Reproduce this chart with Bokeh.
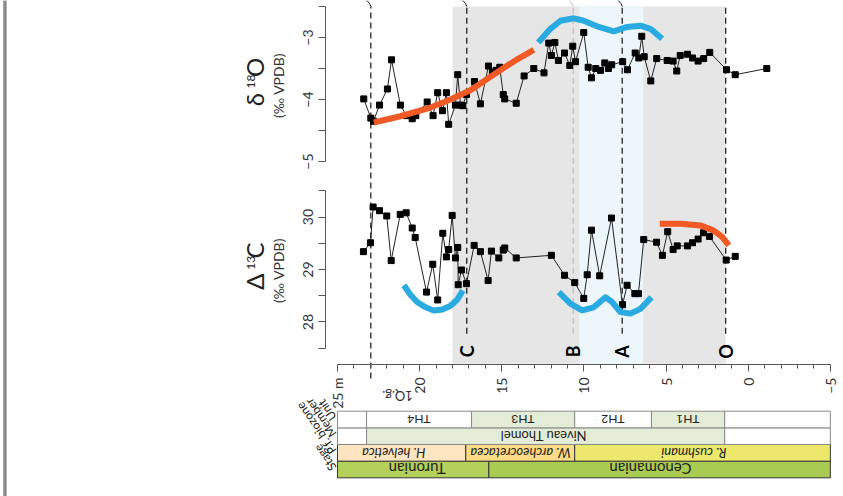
from math import pi
from bokeh.plotting import figure
from bokeh.models import Range1d, LinearAxis, FixedTicker, Span
from bokeh.core.properties import value
from bokeh.embed import file_html
from bokeh.resources import INLINE

FONT = value("Lato")

# ---------------- data ----------------
depth_o = [23.40, 22.97, 22.81, 22.44, 21.96, 21.71, 21.17, 20.80, 20.45, 20.23,
           19.54, 19.18, 18.90, 18.61, 18.37, 18.23, 17.82, 17.68, 17.51, 17.37,
           17.15, 16.66, 16.30, 15.81, 15.57, 15.34, 15.12, 14.91, 14.82, 14.12,
           13.64, 13.05, 12.43, 12.14, 11.98, 11.77, 11.55, 11.18, 10.86, 10.68,
           10.51, 10.01, 9.74, 9.54, 9.28, 8.99, 8.73, 8.51, 8.31, 7.64,
           7.35, 6.88, 6.66, 6.48, 6.33, 5.93, 5.57, 4.93, 4.57, 4.35,
           4.14, 3.70, 3.39, 3.05, 2.71, 2.34, 1.32, 0.79, -1.13]
d18o = [-3.99, -4.30, -4.35, -4.09, -3.83, -3.36, -4.09, -4.26, -4.31, -4.26,
        -4.04, -4.26, -3.89, -4.18, -3.89, -4.40, -4.09, -3.60, -4.09, -4.10,
        -3.92, -3.71, -4.07, -3.46, -3.56, -3.53, -3.48, -3.92, -3.99, -4.06,
        -3.62, -3.50, -3.57, -3.09, -3.29, -3.08, -3.37, -3.25, -3.45, -3.14,
        -3.39, -2.92, -3.48, -3.65, -3.50, -3.53, -3.41, -3.50, -3.44, -3.39,
        -3.52, -3.25, -3.33, -2.98, -3.31, -3.70, -3.34, -3.37, -3.38, -3.54,
        -3.29, -3.27, -3.33, -3.38, -3.34, -3.24, -3.52, -3.60, -3.50]

depth_c = [23.42, 22.99, 22.83, 22.44, 22.00, 21.73, 21.18, 20.82, 20.45, 20.27,
           19.58, 19.20, 18.90, 18.59, 18.37, 18.23, 18.02, 17.82, 17.68, 17.65,
           17.45, 17.15, 16.68, 16.30, 15.83, 15.63, 15.18, 14.91, 14.82, 14.12,
           11.98, 11.18, 10.56, 10.01, 9.80, 9.54, 9.04, 8.32, 7.65, 7.37,
           6.90, 6.68, 6.36, 5.58, 5.22, 4.90, 4.57, 4.32, 3.70, 3.39,
           3.05, 2.72, 2.36, 1.34, 0.79]
d13c = [29.34, 29.51, 30.19, 30.12, 30.02, 29.17, 30.05, 30.08, 29.79, 29.61,
        28.57, 29.10, 28.42, 29.69, 29.24, 29.38, 30.03, 29.22, 29.42, 28.71,
        28.99, 28.73, 29.46, 29.34, 28.79, 29.35, 29.22, 29.37, 29.41, 29.22,
        29.27, 28.89, 28.75, 28.45, 28.90, 29.75, 28.88, 29.98, 28.33, 28.70,
        28.54, 28.54, 29.57, 29.52, 29.27, 29.72, 29.38, 29.45, 29.45, 29.51,
        29.58, 29.70, 29.63, 29.18, 29.25]

# trend sketches
orange_o_d = [22.79, 21.17, 19.34, 18.12, 16.91, 15.28, 14.17, 13.05]
orange_o_v = [-4.37, -4.27, -4.13, -4.00, -3.85, -3.56, -3.37, -3.20]
blue_o_d = [12.78, 12.04, 11.43, 10.62, 10.01, 9.10, 8.18, 7.37, 6.56, 5.95, 5.24]
blue_o_v = [-3.08, -2.86, -2.73, -2.69, -2.73, -2.83, -2.90, -2.83, -2.81, -2.86, -3.02]
blue_c1_d = [20.96, 20.56, 20.15, 19.64, 19.14, 18.61, 18.12, 17.70, 17.37]
blue_c1_v = [28.70, 28.52, 28.38, 28.28, 28.22, 28.24, 28.31, 28.43, 28.60]
blue_c2_d = [11.53, 10.82, 10.11, 9.40, 8.69, 8.28, 7.78, 7.17, 6.56, 5.89]
blue_c2_v = [28.57, 28.35, 28.22, 28.28, 28.47, 28.38, 28.19, 28.16, 28.25, 28.47]
orange_c_d = [5.38, 4.12, 2.91, 2.10, 1.59, 1.18]
orange_c_v = [29.87, 29.87, 29.84, 29.74, 29.62, 29.46]

# event levels
event_depth = [22.97, 17.13, 10.65, 7.67, 1.37]
event_label = ["", "C", "B", "A", "O"]
shade_grey = (18.0, 1.37)
shade_blue = (10.27, 6.39)

# stratigraphic columns (depth intervals)
unit_left = [25, 23.23, 16.84, 10.56, 5.89, 1.43]
unit_right = [23.23, 16.84, 10.56, 5.89, 1.43, -5]
unit_name = ["", "TH4", "TH3", "TH2", "TH1", ""]
unit_fill = ["white", "white", "#E2ECD6", "white", "#E2ECD6", "white"]
member_left = [25, 23.23, 1.43]
member_right = [23.23, 1.43, -5]
member_fill = ["white", "#E2ECD6", "white"]
bio_left = [25, 17.19, 10.56]
bio_right = [17.19, 10.56, -5]
bio_name = ["H. helvetica", "W. archeocretacea", "R. cushmani"]
bio_fill = ["#FDE5C1", "#FCDB86", "#ECE86C"]
stage_left = [25, 15.79]
stage_right = [15.79, -5]
stage_name = ["Turonian", "Cenomanian"]
stage_fill = ["#B2D05A", "#A9CB52"]
row_titles = ["Stage", "P.f. biozone", "Member", "Unit"]

x_ticks = [25, 20, 15, 10, 5, 0, -5]

# ---------------- figure ----------------
p = figure(width=843, height=496, output_backend="svg", toolbar_location=None,
           x_axis_location=None, y_axis_location=None, min_border=0,
           x_range=Range1d(45.51, -5.80), y_range=Range1d(-10.403, -2.403))
p.outline_line_color = None
p.grid.grid_line_color = None
p.background_fill_color = "white"
p.extra_y_ranges = {"c": Range1d(24.676, 34.124), "s": Range1d(-1.123, 28.667)}

# page edge bar on the far left
p.add_layout(Span(location=45.24, dimension="height", line_color="#5a5a5a", line_width=3))
p.add_layout(Span(location=45.24, dimension="height", line_color="#bbbbbb", line_width=1))

# shading
p.quad(left=[shade_grey[0]], right=[shade_grey[1]], bottom=[-8.26], top=[-2.5],
       fill_color="#E6E6E6", line_color=None)
p.quad(left=[shade_blue[0]], right=[shade_blue[1]], bottom=[-8.26], top=[-2.5],
       fill_color="#EDF6FA", line_color=None)

# event dashed lines
for d, lab in zip(event_depth, event_label):
    col = "#BBBBBB" if lab == "B" else "#111111"
    bottom = -8.5 if lab == "" else -7.78
    p.segment(x0=[d], y0=[bottom], x1=[d], y1=[-2.5], line_color=col,
              line_width=1.2, line_dash="6 4")
    if lab != "O":
        p.line(x=[d, d + 0.08, d + 0.25], y=[-2.5, -2.45, -2.40], line_color=col, line_width=1)

# data series
p.line(depth_o, d18o, line_color="#222222", line_width=1)
p.scatter(depth_o, d18o, marker="square", size=6, color="black")
p.line(depth_c, d13c, line_color="#222222", line_width=1, y_range_name="c")
p.scatter(depth_c, d13c, marker="square", size=6, color="black", y_range_name="c")

# trend sketches
p.line(orange_o_d, orange_o_v, line_color="#F15A24", line_width=6, line_join="round")
p.line(blue_o_d, blue_o_v, line_color="#29ABE2", line_width=6, line_join="round")
p.line(blue_c1_d, blue_c1_v, line_color="#29ABE2", line_width=6, line_join="round", y_range_name="c")
p.line(blue_c2_d, blue_c2_v, line_color="#29ABE2", line_width=6, line_join="round", y_range_name="c")
p.line(orange_c_d, orange_c_v, line_color="#F15A24", line_width=6, line_join="round", y_range_name="c")

# event letters
p.text(x=event_depth[1:], y=[27.44] * 4, text=event_label[1:], angle=pi / 2,
       text_font=FONT, text_font_size="18px", text_font_style="bold",
       text_align="center", text_baseline="middle", text_color="black",
       y_range_name="c")

# axes
def style(ax):
    ax.axis_line_color = "#555555"
    ax.major_tick_line_color = "#555555"
    ax.minor_tick_line_color = "#555555"
    ax.major_tick_in = 0
    ax.minor_tick_in = 0
    ax.major_label_text_font = "Lato"
    ax.major_label_text_font_size = "14px"
    ax.major_label_text_color = "#333333"

ax18 = LinearAxis(fixed_location=25.73, bounds=(-5, -2.5),
                  ticker=FixedTicker(ticks=[-5, -4, -3], minor_ticks=[-4.5, -3.5, -2.5]),
                  major_label_orientation="vertical")
style(ax18)
ax18.major_tick_out = 7
ax18.minor_tick_out = 7
ax18.major_label_standoff = 5
p.add_layout(ax18, "left")

ax13 = LinearAxis(fixed_location=25.73, bounds=(27.5, 30.5), y_range_name="c",
                  ticker=FixedTicker(ticks=[28, 29, 30], minor_ticks=[27.5, 28.5, 29.5, 30.5]),
                  major_label_orientation="vertical")
style(ax13)
ax13.major_tick_out = 7
ax13.minor_tick_out = 7
ax13.major_label_standoff = 5
p.add_layout(ax13, "left")

xax = LinearAxis(fixed_location=-8.274, bounds=(-5, 25),
                 ticker=FixedTicker(ticks=x_ticks, minor_ticks=list(range(-5, 26))),
                 major_label_orientation=pi / 2,
                 major_label_overrides={25: "25 m"})
style(xax)
xax.major_tick_out = 7
xax.minor_tick_out = 4
xax.major_label_standoff = 6
p.add_layout(xax, "below")

# axis titles
p.text(x=[30.05, 30.05], y=[-4.0, -3.48], text=["δ", "O"], angle=pi / 2,
       text_font=FONT, text_font_size="24px", text_align="center",
       text_baseline="middle", text_color="#222222")
p.text(x=[30.25], y=[-3.71], text=["18"], angle=pi / 2, text_font=FONT,
       text_font_size="12px", text_align="center", text_baseline="middle",
       text_color="#222222")
p.text(x=[30.05, 30.05], y=[28.77, 29.36], text=["Δ", "C"], angle=pi / 2,
       text_font=FONT, text_font_size="24px", text_align="center",
       text_baseline="middle", text_color="#222222", y_range_name="c")
p.text(x=[30.25], y=[29.13], text=["13"], angle=pi / 2, text_font=FONT,
       text_font_size="12px", text_align="center", text_baseline="middle",
       text_color="#222222", y_range_name="c")
p.text(x=[28.56], y=[-3.774], text=["(‰ VPDB)"], angle=pi / 2, text_font=FONT,
       text_font_size="14px", text_align="center", text_baseline="middle",
       text_color="#333333")
p.text(x=[28.56], y=[28.98], text=["(‰ VPDB)"], angle=pi / 2, text_font=FONT,
       text_font_size="14px", text_align="center", text_baseline="middle",
       text_color="#333333", y_range_name="c")

# stratigraphic columns
def row(lefts, rights, fills, y0, line_color):
    p.quad(left=lefts, right=rights, bottom=[y0] * len(lefts), top=[y0 + 1] * len(lefts),
           fill_color=fills, line_color=line_color, line_width=1, y_range_name="s")

row(stage_left, stage_right, stage_fill, 0, "#333333")
row(bio_left, bio_right, bio_fill, 1, "#333333")
row(member_left, member_right, member_fill, 2, "#888888")
row(unit_left, unit_right, unit_fill, 3, "#888888")

p.text(x=[20.04, 13.71, 8.23, 3.67], y=[3.5] * 4, text=unit_name[1:5], angle=pi,
       text_font=FONT, text_font_size="12px", text_align="center", text_baseline="middle",
       text_color="#222222", y_range_name="s")
p.text(x=[12.46], y=[2.5], text=["Niveau Thomel"], angle=pi,
       text_font=FONT, text_font_size="13px", text_align="center", text_baseline="middle",
       text_color="#222222", y_range_name="s")
p.text(x=[21.57, 13.86, 3.31], y=[1.5] * 3, text=bio_name, angle=pi,
       text_font=FONT, text_font_size="13px", text_font_style="italic",
       text_align="center", text_baseline="middle", text_color="#222222", y_range_name="s")
p.text(x=[20.15, 5.95], y=[0.5] * 2, text=stage_name, angle=pi,
       text_font=FONT, text_font_size="15px", text_align="center", text_baseline="middle",
       text_color="#222222", y_range_name="s")

# row titles (diagonal, upside down)
p.text(x=[25.25] * 4, y=[0.5, 1.5, 2.5, 3.5], text=row_titles, angle=2.18,
       text_font=FONT, text_font_size="12px", text_align="left", text_baseline="middle",
       text_color="#222222", y_range_name="s")

p.text(x=[21.35], y=[4.94], text=["1Q.g."], angle=pi, text_font=FONT,
       text_font_size="13px", text_align="center", text_baseline="middle",
       text_color="#333333", y_range_name="s")

open("out.html", "w").write(file_html(p, INLINE))
